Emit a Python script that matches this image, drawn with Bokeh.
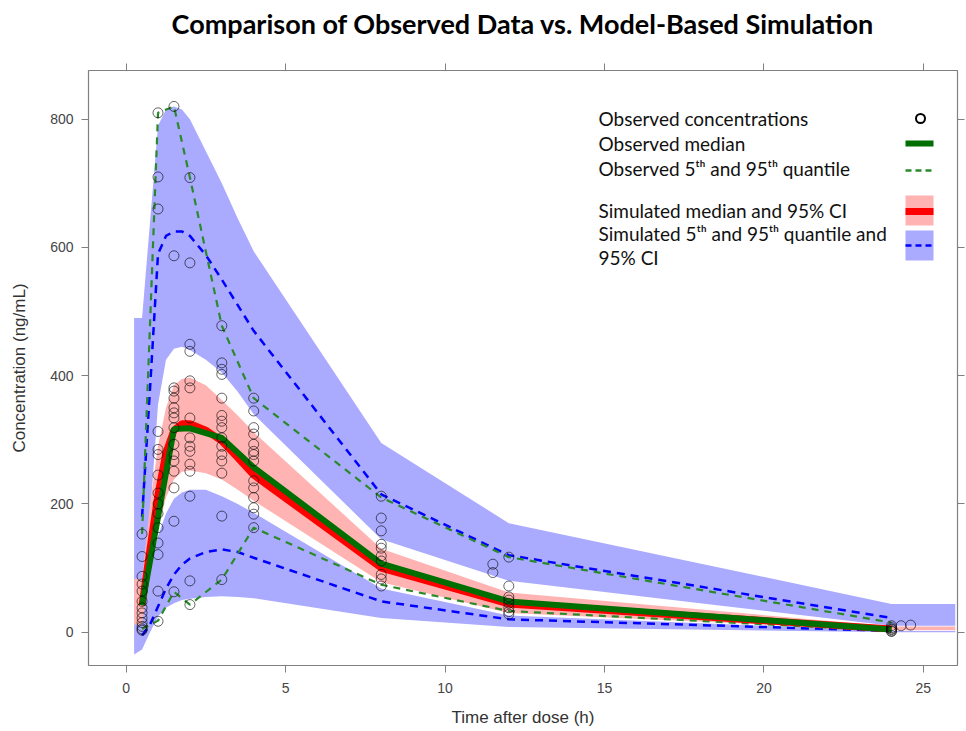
from bokeh.plotting import figure
from bokeh.models import Range1d, LinearAxis, Label, FixedTicker, CustomJSTickFormatter
from bokeh.embed import file_html
from bokeh.resources import INLINE

# ---------------- data ----------------
# simulation grid (h) and simulated percentile bands (ng/mL)
sim_time = [0.25, 0.5, 0.75, 1, 1.25, 1.5, 1.75, 2, 2.5, 3, 3.5, 4, 8, 12, 24, 26]
sim_p95_hi = [490, 490, 640, 790, 815, 820, 815, 800, 750, 700, 645, 594, 295, 170, 44, 44]
sim_p95_lo = [20, 60, 180, 355, 425, 442, 445, 440, 425, 405, 375, 340, 145, 80, 10, 10]
sim_med_hi = [83, 83, 200, 290, 350, 385, 395, 397, 385, 362, 338, 312, 130, 62, 9, 9]
sim_med_lo = [12, 12, 90, 160, 210, 238, 250, 252, 248, 238, 222, 205, 78, 30, 3, 3]
sim_p05_hi = [15, 40, 100, 150, 185, 208, 218, 222, 222, 212, 200, 186, 68, 26, 2, 2]
sim_p05_lo = [-35, -27, 0, 25, 38, 45, 50, 52, 55, 56, 55, 53, 22, 8, 0, 0]

# simulated percentile lines
line_time = [0.5, 0.75, 1, 1.25, 1.5, 1.75, 2, 2.5, 3, 3.5, 4, 8, 12, 24]
sim_p95 = [180, 380, 590, 618, 625, 625, 618, 588, 550, 510, 470, 215, 120, 22]
sim_median = [42, 130, 215, 280, 315, 325, 325, 315, 298, 272, 245, 100, 44, 5]
sim_p05 = [-5, 12, 40, 68, 90, 105, 115, 125, 129, 125, 116, 48, 20, 2]

# observed summaries
obs_time = [0.5, 1, 1.5, 2, 3, 4, 8, 12, 24]
obs_median = [42, 180, 317, 318, 303, 257, 107, 48, 4]
obs_p95 = [153, 810, 820, 709, 478, 365, 210, 117, 15]
obs_p05 = [5, 18, 63, 43, 82, 163, 74, 33, 2]

# observed concentrations by sampling time
pt_times = [0.5, 1, 1.5, 2, 3, 4, 8, 11.5, 12, 24, 24.3, 24.6]
pt_conc = [
    [153, 118, 87, 75, 64, 48, 38, 30, 22, 15, 9, 5, 3],
    [810, 710, 660, 313, 285, 277, 245, 217, 200, 185, 163, 139, 121, 64, 17],
    [820, 587, 381, 376, 365, 350, 342, 334, 319, 293, 277, 267, 251, 225, 173, 63],
    [709, 576, 449, 438, 392, 381, 334, 303, 290, 282, 262, 251, 212, 80, 43],
    [478, 420, 410, 402, 365, 338, 329, 319, 303, 290, 277, 267, 248, 181, 82],
    [365, 345, 319, 309, 293, 282, 277, 267, 236, 225, 210, 194, 184, 163],
    [212, 178, 158, 137, 131, 119, 111, 90, 83, 72],
    [106, 93],
    [117, 72, 55, 50, 45, 38, 32, 28],
    [10, 7, 5, 4, 2, 1],
    [10],
    [11],
]

x_ticks = [0, 5, 10, 15, 20, 25]
y_ticks = [0, 200, 400, 600, 800]
title_text = "Comparison of Observed Data vs. Model-Based Simulation"

# ---------------- styling ----------------
BLUE_BAND = "#AAAAFF"
PINK_BAND = "#FFB3B3"
RED = "#FF0000"
GREEN = "#006E00"
GREEN_D = "#2A8A2A"
BLUE_D = "#0000FF"
AX = "#808080"

X0, X1 = -1.18, 26.07
Y0, Y1 = -52, 876
FL, FR, FT, FB = 88, 957, 70, 665  # intended frame (canvas px)


def dx(xp):
    return X0 + (xp - FL) * (X1 - X0) / (FR - FL)


def dy(yp):
    return Y1 - (yp - FT) * (Y1 - Y0) / (FB - FT)


p = figure(width=966, height=731, output_backend="svg", toolbar_location=None,
           x_range=Range1d(X0, X1), y_range=Range1d(Y0, Y1),
           min_border_left=88, min_border_right=9, min_border_top=70, min_border_bottom=66,
           x_axis_label="Time after dose (h)", y_axis_label="Concentration (ng/mL)")
p.grid.visible = False
p.outline_line_color = AX
p.outline_line_width = 1.2
p.background_fill_color = "white"
p.border_fill_color = "white"

bottom_ax = p.below[0]
left_ax = p.left[0]
bottom_ax.ticker = FixedTicker(ticks=x_ticks)
left_ax.ticker = FixedTicker(ticks=y_ticks)

top_ax = LinearAxis(ticker=FixedTicker(ticks=x_ticks),
                    formatter=CustomJSTickFormatter(code="return ''"))
right_ax = LinearAxis(ticker=FixedTicker(ticks=y_ticks),
                      formatter=CustomJSTickFormatter(code="return ''"))
p.add_layout(top_ax, "above")
p.add_layout(right_ax, "right")

for ax in [bottom_ax, left_ax, top_ax, right_ax]:
    ax.axis_line_color = None
    ax.major_tick_line_color = AX
    ax.major_tick_in = 0
    ax.major_tick_out = 7
    ax.minor_tick_line_color = None
    ax.major_label_text_font = "Liberation Sans"
    ax.major_label_text_font_size = "14px"
    ax.major_label_text_color = "#444444"
    ax.axis_label_text_font = "Liberation Sans"
    ax.axis_label_text_font_size = "17px"
    ax.axis_label_text_font_style = "normal"
    ax.axis_label_text_color = "#333333"
for ax in [top_ax, right_ax]:
    ax.major_label_text_font_size = "0px"
    ax.major_label_standoff = 0
bottom_ax.major_label_standoff = 10
bottom_ax.axis_label_standoff = 12
left_ax.major_label_standoff = 8
left_ax.axis_label_standoff = 18

# title sits above the top axis; the top axis carries the title text as its label
top_ax.axis_label = title_text
top_ax.axis_label_text_font = "Lato"
top_ax.axis_label_text_font_style = "bold"
top_ax.axis_label_text_font_size = "27px"
top_ax.axis_label_text_color = "black"
top_ax.axis_label_standoff = 24

# bands
p.varea(x=sim_time, y1=sim_p95_lo, y2=sim_p95_hi, fill_color=BLUE_BAND)
p.varea(x=sim_time, y1=sim_p05_lo, y2=sim_p05_hi, fill_color=BLUE_BAND)
p.varea(x=sim_time, y1=sim_med_lo, y2=sim_med_hi, fill_color=PINK_BAND)

# simulated percentile lines
p.line(line_time, sim_p95, line_color=BLUE_D, line_width=2.5, line_dash="8 6")
p.line(line_time, sim_p05, line_color=BLUE_D, line_width=2.5, line_dash="8 6")
# observed percentile lines
p.line(obs_time, obs_p95, line_color=GREEN_D, line_width=2.2, line_dash="7 6")
p.line(obs_time, obs_p05, line_color=GREEN_D, line_width=2.2, line_dash="7 6")
# medians
p.line(line_time, sim_median, line_color=RED, line_width=7)
p.line(obs_time, obs_median, line_color=GREEN, line_width=6)

# observed points
xs, ys = [], []
for t, cs in zip(pt_times, pt_conc):
    for c in cs:
        xs.append(t)
        ys.append(c)
p.scatter(xs, ys, size=10, marker="circle", fill_color=None,
          line_color="black", line_alpha=0.6, line_width=1)

# ---------------- legend ----------------
LF = "Lato"
LS = "19px"


def lab(xp, yp, txt, size=LS):
    p.add_layout(Label(x=dx(xp), y=dy(yp), text=txt, text_font=LF, text_font_size=size,
                       text_baseline="middle", text_align="left", text_color="#111111"))


lab(598, 118, "Observed concentrations")
lab(598, 143, "Observed median")
lab(598, 168, "Observed 5\u1d57\u02b0 and 95\u1d57\u02b0 quantile")
lab(598, 210, "Simulated median and 95% CI")
lab(598, 233, "Simulated 5\u1d57\u02b0 and 95\u1d57\u02b0 quantile and")
lab(598, 257, "95% CI")

p.scatter([dx(920)], [dy(118)], size=9, marker="circle", fill_color=None,
          line_color="black", line_width=2)
p.line([dx(905), dx(933)], [dy(143), dy(143)], line_color=GREEN, line_width=6)
p.line([dx(905), dx(933)], [dy(170), dy(170)], line_color=GREEN_D, line_width=2.5, line_dash="6 4")
p.quad(left=[dx(905)], right=[dx(933)], top=[dy(195)], bottom=[dy(225)],
       fill_color=PINK_BAND, line_color=None)
p.line([dx(905), dx(933)], [dy(211), dy(211)], line_color=RED, line_width=7)
p.quad(left=[dx(905)], right=[dx(933)], top=[dy(230)], bottom=[dy(260)],
       fill_color=BLUE_BAND, line_color=None)
p.line([dx(905), dx(933)], [dy(245), dy(245)], line_color=BLUE_D, line_width=2.5, line_dash="6 4")

open("out.html", "w").write(file_html(p, INLINE))
